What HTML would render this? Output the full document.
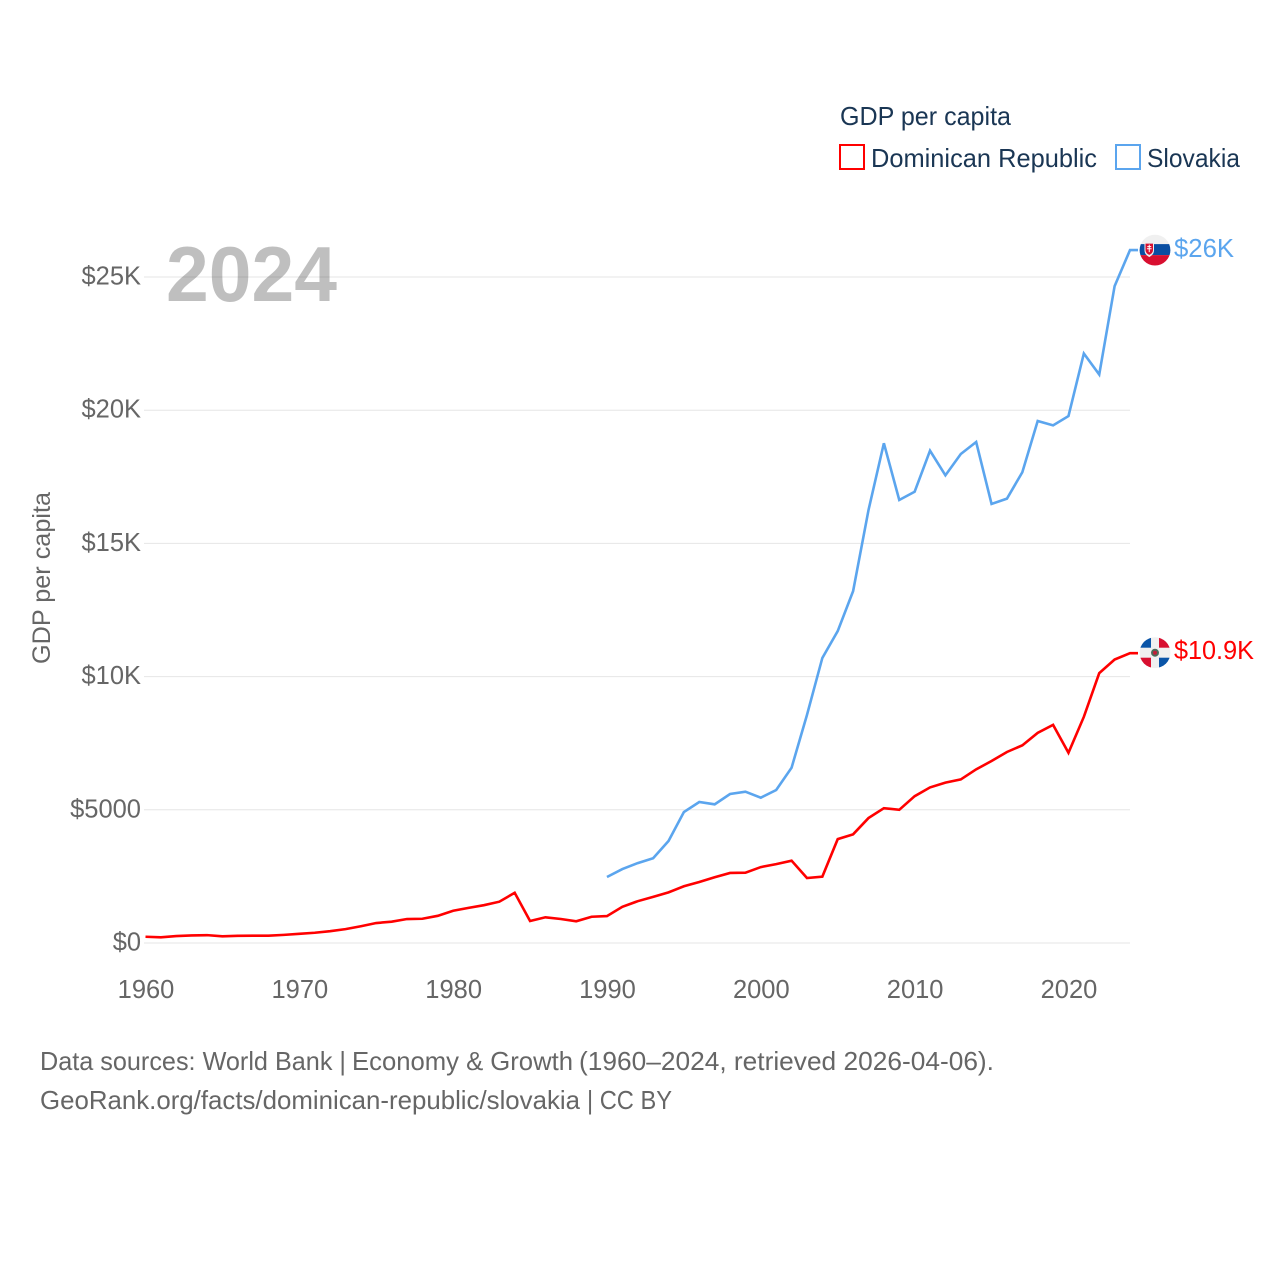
<!DOCTYPE html>
<html lang="en">
<head>
<meta charset="utf-8">
<title>GDP per capita: Dominican Republic and Slovakia</title>
<style>
html,body{margin:0;padding:0;background:#fff;}
svg{display:block;font-family:"Liberation Sans",sans-serif;}
</style>
</head>
<body>
<svg id="chart" width="1280" height="1280" viewBox="0 0 1280 1280" xmlns="http://www.w3.org/2000/svg">
  <defs>
    <clipPath id="flag-clip"><circle cx="0" cy="0" r="15.4"></circle></clipPath>
  </defs>
  <rect width="1280" height="1280" fill="#fff"></rect>
  <g id="grid"></g>
  <g id="y-ticks"></g>
  <g id="x-ticks"></g>
  <text x="166" y="301" font-size="78" font-weight="700" fill="#000" fill-opacity="0.25" textLength="171" lengthAdjust="spacingAndGlyphs">2024</text>
  <text transform="translate(50,578) rotate(-90)" text-anchor="middle" font-size="25" fill="#666" textLength="172" lengthAdjust="spacingAndGlyphs">GDP per capita</text>
  <g id="series"></g>
  <g id="flag-dr">
    <g clip-path="url(#flag-clip)">
      <rect x="-16" y="-16" width="32" height="32" fill="#f0f0f0"></rect>
      <rect x="-16" y="-16" width="12" height="11" fill="#0a55a8"></rect>
      <rect x="4" y="-16" width="12" height="11" fill="#d80f30"></rect>
      <rect x="-16" y="5" width="12" height="11" fill="#d80f30"></rect>
      <rect x="4" y="5" width="12" height="11" fill="#0a55a8"></rect>
      <circle r="4" fill="#4d6b5a"></circle>
      <circle r="2" fill="#c2203a"></circle>
    </g>
  </g>
  <g id="flag-sk">
    <g clip-path="url(#flag-clip)">
      <rect x="-16" y="-16" width="32" height="10" fill="#f0f0f0"></rect>
      <rect x="-16" y="-6" width="32" height="11" fill="#0a4ea2"></rect>
      <rect x="-16" y="5" width="32" height="11" fill="#d80f30"></rect>
      <path d="M-10.5,-7.5 H-1 V0 Q-1,4.5 -5.75,7 Q-10.5,4.5 -10.5,0 Z" fill="#f0f0f0"></path>
      <path d="M-9.5,-6.5 H-2 V0 Q-2,3 -5.75,4.8 Q-9.5,3 -9.5,0 Z" fill="#d80f30"></path>
      <path d="M-6.25,-5.5 H-5.25 V-4 H-3.75 V-3 H-5.25 V-1.8 H-3.4 V-0.8 H-5.25 V2 H-6.25 V-0.8 H-8.1 V-1.8 H-6.25 V-3 H-7.75 V-4 H-6.25 Z" fill="#fff"></path>
    </g>
  </g>
  <g id="end-labels"></g>

  <g>
    <text x="840" y="125" font-size="26" fill="#1a3654" textLength="171" lengthAdjust="spacingAndGlyphs">GDP per capita</text>
    <g>
      <rect x="840" y="145" width="24" height="24" fill="none" stroke="#ff0000" stroke-width="2"></rect>
      <text x="871" y="167" font-size="26" fill="#1a3654" textLength="226" lengthAdjust="spacingAndGlyphs">Dominican Republic</text>
    </g>
    <g>
      <rect x="1116" y="145" width="24" height="24" fill="none" stroke="#5ba5ee" stroke-width="2"></rect>
      <text x="1147" y="167" font-size="26" fill="#1a3654" textLength="93" lengthAdjust="spacingAndGlyphs">Slovakia</text>
    </g>
  </g>

  <text y="1070" font-size="26" fill="#666"><tspan x="40" textLength="306" lengthAdjust="spacingAndGlyphs">Data sources: World Bank |</tspan> <tspan x="352" textLength="221" lengthAdjust="spacingAndGlyphs">Economy &amp; Growth</tspan> <tspan x="579" textLength="415" lengthAdjust="spacingAndGlyphs">(1960–2024, retrieved 2026-04-06).</tspan></text>
  <text y="1109" font-size="26" fill="#666"><tspan x="40" textLength="540" lengthAdjust="spacingAndGlyphs">GeoRank.org/facts/dominican-republic/slovakia</tspan> <tspan x="587" textLength="85" lengthAdjust="spacingAndGlyphs">| CC BY</tspan></text>
</svg>
<script>
const years = [];
for (let yr = 1960; yr <= 2024; yr++) years.push(yr);
const dominicanValues = [235,215,260,285,295,250,270,275,275,305,345,385,445,520,630,750,800,900,910,1020,1210,1320,1420,1550,1885,825,965,900,815,985,1010,1360,1570,1730,1900,2130,2290,2470,2630,2640,2850,2960,3090,2440,2490,3900,4080,4690,5060,5000,5510,5840,6020,6140,6520,6830,7170,7420,7890,8190,7140,8490,10130,10640,10880];
const slovakiaYears = [1990,1991,1992,1993,1994,1995,1996,1997,1998,1999,2000,2001,2002,2003,2004,2005,2006,2007,2008,2009,2010,2011,2012,2013,2014,2015,2016,2017,2018,2019,2020,2021,2022,2023,2024];
const slovakiaValues = [2477,2775,3000,3180,3830,4917,5293,5205,5593,5680,5455,5743,6580,8560,10700,11710,13210,16250,18760,16630,16940,18480,17555,18355,18806,16480,16680,17670,19595,19430,19780,22130,21340,24660,26010];
const yTickValues = [0,5000,10000,15000,20000,25000];
const yTickLabels = ['$0','$5000','$10K','$15K','$20K','$25K'];
const xTickValues = [1960,1970,1980,1990,2000,2010,2020];
const dominicanEndLabel = '$10.9K';
const slovakiaEndLabel = '$26K';

const NS = 'http://www.w3.org/2000/svg';
const plotLeft = 145.5, plotRight = 1130, plotZero = 943, pxPerUnit = 0.02664;
function xScale(year) { return plotLeft + (year - 1960) * (plotRight - plotLeft) / 64; }
function yScale(value) { return plotZero - value * pxPerUnit; }
function make(tag, parent, attrs, text) {
  const el = document.createElementNS(NS, tag);
  for (const k in attrs) el.setAttribute(k, attrs[k]);
  if (text !== undefined) el.textContent = text;
  parent.appendChild(el);
  return el;
}
function fit(el, ratio) {
  const w = el.getComputedTextLength() * ratio;
  el.setAttribute('textLength', w.toFixed(1));
  el.setAttribute('lengthAdjust', 'spacingAndGlyphs');
}
const grid = document.getElementById('grid');
const yTicks = document.getElementById('y-ticks');
const xTicks = document.getElementById('x-ticks');
const series = document.getElementById('series');
const endLabels = document.getElementById('end-labels');

yTickValues.forEach(function (v, i) {
  const line = make('line', grid, {x1: 144, x2: 1130, y1: yScale(v), y2: yScale(v), stroke: '#e6e6e6', 'stroke-width': 1});
  
  
  const t = make('text', yTicks, {x: 141, y: yScale(v) + 7.5, 'text-anchor': 'end', 'font-size': 26, fill: '#666'}, yTickLabels[i]);
  
  
  fit(t, 0.98);
});
xTickValues.forEach(function (v) {
  const t = make('text', xTicks, {x: xScale(v) + 0.5, y: 998, 'text-anchor': 'middle', 'font-size': 26, fill: '#666'}, String(v));
  
  
  fit(t, 0.98);
});
function linePoints(xs, vs) {
  return xs.map(function (yr, i) { return xScale(yr).toFixed(2) + ',' + yScale(vs[i]).toFixed(2); }).join(' ');
}
const stubLength = 8;
const slovakiaLine = make('polyline', series, {points: linePoints(slovakiaYears, slovakiaValues) + ' ' + (plotRight + stubLength) + ',' + yScale(slovakiaValues[slovakiaValues.length - 1]).toFixed(2), fill: 'none', stroke: '#5ba5ee', 'stroke-width': 2.6, 'stroke-linejoin': 'miter'});


const dominicanLine = make('polyline', series, {points: linePoints(years, dominicanValues) + ' ' + (plotRight + stubLength) + ',' + yScale(dominicanValues[dominicanValues.length - 1]).toFixed(2), fill: 'none', stroke: '#ff0000', 'stroke-width': 2.6, 'stroke-linejoin': 'miter'});



const drEndY = yScale(dominicanValues[dominicanValues.length - 1]);
const skEndY = yScale(slovakiaValues[slovakiaValues.length - 1]);
document.getElementById('flag-dr').setAttribute('transform', 'translate(1155,' + (drEndY - 0.5).toFixed(1) + ')');
document.getElementById('flag-sk').setAttribute('transform', 'translate(1155,' + skEndY.toFixed(1) + ')');
const drLabel = make('text', endLabels, {x: 1174, y: drEndY + 6, 'font-size': 26, fill: '#ff0000'}, dominicanEndLabel);


fit(drLabel, 0.97);
const skLabel = make('text', endLabels, {x: 1174, y: skEndY + 7, 'font-size': 26, fill: '#5ba5ee'}, slovakiaEndLabel);


fit(skLabel, 0.99);
</script>
</body>
</html>
